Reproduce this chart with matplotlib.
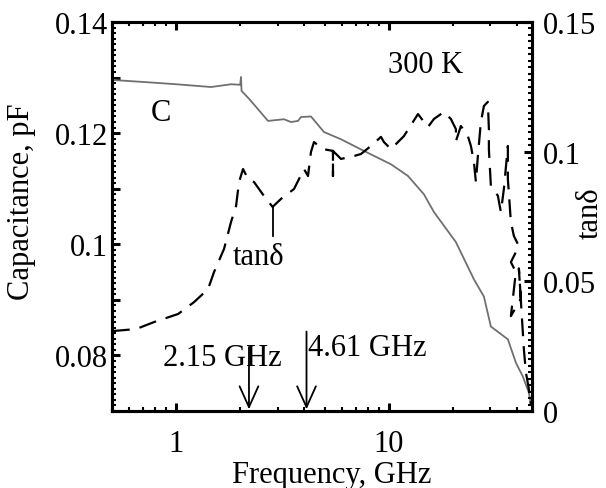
import matplotlib
matplotlib.use("Agg")
import matplotlib.pyplot as plt
from matplotlib.ticker import FixedLocator, FixedFormatter, NullFormatter
import numpy as np

plt.rcParams['font.family'] = ['Liberation Serif', 'DejaVu Serif']

# ---- data ----
freq_c = [0.5, 0.534, 0.708, 1.0, 1.46, 1.812, 2.00, 2.019, 2.03, 2.2, 2.427, 2.704,
          3.214, 3.467, 3.739, 3.863, 4.302, 4.953, 5.953, 7.631, 10.22, 12.28, 14.60,
          16.27, 20.63, 25.07, 27.93, 30.12, 36.20, 39.47, 42.57, 45.43, 46.42]
cap = [0.1296, 0.1295, 0.1292, 0.1288, 0.1283, 0.1288, 0.1287, 0.1301, 0.1276, 0.1262,
       0.1243, 0.1222, 0.1225, 0.1220, 0.1222, 0.1229, 0.1230, 0.1202, 0.1189, 0.1168,
       0.1144, 0.1123, 0.1090, 0.1058, 0.1004, 0.0937, 0.0906, 0.0852, 0.0829, 0.0787,
       0.0762, 0.0733, 0.0712]

freq_t = [0.5, 0.649, 0.788, 1.022, 1.215, 1.413, 1.508, 1.68, 1.812, 1.913, 1.976,
          2.063, 2.178, 2.323, 2.589, 2.84, 3.112, 3.581, 3.99, 4.166, 4.302, 4.445,
          4.899, 5.459, 5.459, 5.459, 5.953, 6.851, 7.387, 8.23, 9.172, 9.473, 10.22,
          11.76, 13.69, 15.25, 16.27, 18.12, 19.55, 20.63, 20.63, 21.78, 23.49, 24.27,
          25.07, 25.62, 26.17, 27.03, 27.93, 29.16, 29.48, 29.48, 30.12, 32.49, 33.57,
          34.67, 36.2, 36.2, 37.4, 38.63, 40.77, 37.4, 39.47, 37.4, 41.66, 40.77, 43.04,
          43.98, 45.43, 46.42]
tand = [0.0308, 0.0316, 0.0343, 0.0374, 0.0420, 0.0470, 0.0536, 0.0625, 0.0729, 0.0790,
        0.0883, 0.0933, 0.0895, 0.0883, 0.0829, 0.0787, 0.0818, 0.0856, 0.0933, 0.0906,
        0.0999, 0.1037, 0.1010, 0.1003, 0.0906, 0.1003, 0.0972, 0.0983, 0.0991, 0.1022,
        0.1057, 0.1037, 0.1010, 0.1060, 0.1145, 0.1095, 0.1126, 0.1153, 0.1126, 0.1087,
        0.1040, 0.1099, 0.1060, 0.1022, 0.0960, 0.0883, 0.0983, 0.1114, 0.1176, 0.1192,
        0.1087, 0.1010, 0.0868, 0.0830, 0.0767, 0.0856, 0.1022, 0.0895, 0.0729, 0.0675,
        0.0636, 0.0574, 0.0536, 0.0366, 0.0432, 0.0550, 0.0239, 0.0150, 0.0085, 0.0027]

left_ticks = [0.07, 0.08, 0.09, 0.10, 0.11, 0.12, 0.13, 0.14]
left_labels = ['', '0.08', '', '0.1', '', '0.12', '', '0.14']
right_ticks = [0, 0.05, 0.10, 0.15]
right_labels = ['0', '0.05', '0.1', '0.15']
x_ticks = [1, 10]
x_labels = ['1', '10']
marker_freqs = [2.2, 4.1]
marker_labels = ['2.15 GHz', '4.61 GHz']

FS = 22

fig = plt.figure(figsize=(6.06, 4.89), dpi=100)
ax = fig.add_axes([112/606, 77/489, 420/606, 389/489])
ax2 = ax.twinx()

ax.plot(freq_c, cap, color='#707070', lw=1.3, zorder=3)
ax2.plot(freq_t, tand, color='black', lw=1.6, dashes=(8, 4.5), zorder=3)

ax.set_xscale('log')
ax.set_xlim(0.5, 47)
ax.set_ylim(0.07, 0.14)
ax2.set_ylim(0, 0.15)

# ticks
ax.xaxis.set_major_locator(FixedLocator(x_ticks))
ax.xaxis.set_major_formatter(FixedFormatter(x_labels))
minor_x = [v * d for d in (0.1, 1, 10) for v in range(2, 10) if 0.5 <= v * d <= 47]
ax.xaxis.set_minor_locator(FixedLocator(minor_x))
ax.xaxis.set_minor_formatter(NullFormatter())

ax.yaxis.set_major_locator(FixedLocator(left_ticks))
ax.yaxis.set_major_formatter(FixedFormatter(left_labels))
ax.yaxis.set_minor_locator(FixedLocator(np.arange(0.07, 0.1401, 0.001)))

ax2.yaxis.set_major_locator(FixedLocator(right_ticks))
ax2.yaxis.set_major_formatter(FixedFormatter(right_labels))
ax2.yaxis.set_minor_locator(FixedLocator(np.arange(0, 0.1501, 0.0025)))

ax.tick_params(axis='x', which='both', direction='in', top=True, bottom=True)
ax.tick_params(axis='y', which='both', direction='in', left=True, right=False)
ax.tick_params(which='major', length=6, width=2.2, labelsize=FS)
ax.tick_params(which='minor', length=3, width=1.5)
ax.tick_params(axis='x', which='major', pad=13)
ax.tick_params(axis='y', which='major', pad=3)
ax2.tick_params(axis='y', which='both', direction='in', right=True, left=False)
ax2.tick_params(which='major', length=6, width=2.2, labelsize=FS, pad=8)
ax2.tick_params(which='minor', length=3, width=1.5)

for a in (ax, ax2):
    for s in a.spines.values():
        s.set_linewidth(2.2)

ax.set_xlabel('Frequency, GHz', fontsize=FS)
ax.xaxis.set_label_coords(0.524, -0.125)
ax.set_ylabel('Capacitance, pF', fontsize=FS)
ax.yaxis.set_label_coords(-0.18, 0.54)
ax2.set_ylabel('tanδ', fontsize=FS)
ax2.yaxis.set_label_coords(1.105, 0.51)

# annotations
ax.text(0.85, 0.1238, 'C', ha='center', va='center', fontsize=FS)
ax.text(14.9, 0.1324, '300 K', ha='center', va='center', fontsize=FS)
ax2.text(2.45, 0.0594, 'tanδ', ha='center', va='center', fontsize=FS)
ax2.plot([2.84, 2.84], [0.0787, 0.0675], color='black', lw=1.3)

ax.text(0.869, 0.0796, marker_labels[0], ha='left', va='center', fontsize=FS)
ax.text(4.17, 0.0814, marker_labels[1], ha='left', va='center', fontsize=FS)
tops = [0.0815, 0.0843]
for f, t in zip(marker_freqs, tops):
    ax.annotate('', xy=(f, 0.0703), xytext=(f, t),
                arrowprops=dict(arrowstyle='->,head_length=1.0,head_width=0.45',
                                lw=1.3, color='black', shrinkA=0, shrinkB=0,
                                mutation_scale=15))

fig.savefig('out.png', dpi=100)
